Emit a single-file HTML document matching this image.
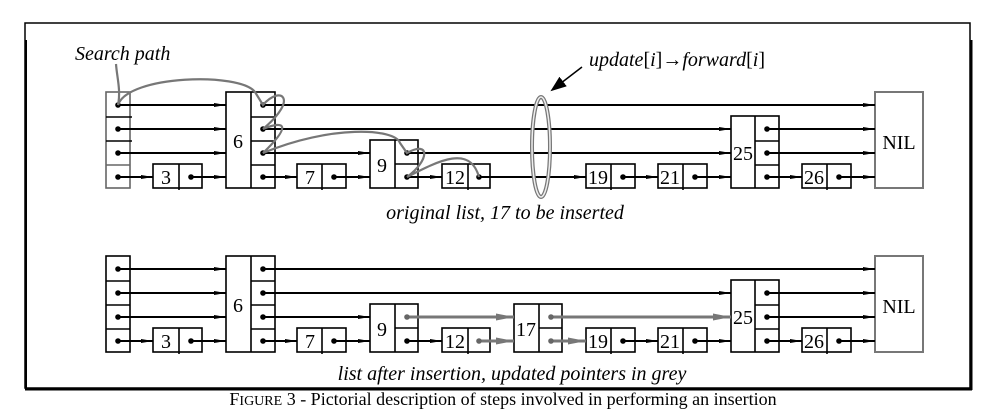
<!DOCTYPE html>
<html><head><meta charset="utf-8"><style>
html,body{margin:0;padding:0;background:#fff;}
svg{display:block;font-family:"Liberation Serif",serif;}
</style></head><body>
<svg width="1007" height="415" viewBox="0 0 1007 415" xmlns="http://www.w3.org/2000/svg">
<defs>
<marker id="a" markerUnits="userSpaceOnUse" markerWidth="12" markerHeight="6" refX="12" refY="3" orient="auto"><path d="M0,1 L12,3 L0,5z" fill="#000"/></marker>
<marker id="g" markerUnits="userSpaceOnUse" markerWidth="18" markerHeight="8" refX="18" refY="4" orient="auto"><path d="M0,0.5 L18,4 L0,7.5z" fill="#777"/></marker>
<marker id="b" markerUnits="userSpaceOnUse" markerWidth="16" markerHeight="12" refX="14" refY="6" orient="auto"><path d="M0,0 L16,6 L0,12z" fill="#000"/></marker>
</defs>
<rect x="25" y="23" width="945" height="365" fill="none" stroke="#000" stroke-width="1.5"/>
<line x1="26" y1="40" x2="26" y2="390" stroke="#000" stroke-width="2"/>
<line x1="971" y1="40" x2="971" y2="390" stroke="#000" stroke-width="3"/>
<line x1="25" y1="389" x2="972" y2="389" stroke="#000" stroke-width="3"/>

<g>
<g stroke="#000" stroke-width="1.6" fill="#fff">
<rect x="106" y="92" width="24" height="96" stroke="#666"/>
<line x1="106" y1="117" x2="132" y2="117"/><line x1="106" y1="141" x2="132" y2="141"/><line x1="106" y1="165" x2="130" y2="165" stroke="#666"/>
<rect x="226" y="92" width="49" height="96"/><line x1="251" y1="92" x2="251" y2="188"/>
<line x1="251" y1="117" x2="275" y2="117"/><line x1="251" y1="141" x2="275" y2="141"/><line x1="251" y1="165" x2="275" y2="165"/>
<rect x="153" y="164" width="49" height="24"/><line x1="179" y1="164" x2="179" y2="190"/>
<rect x="297" y="164" width="49" height="24"/><line x1="322" y1="164" x2="322" y2="190"/>
<rect x="370" y="140" width="48" height="48"/><line x1="395" y1="140" x2="395" y2="188"/><line x1="395" y1="164" x2="418" y2="164"/>
<rect x="442" y="164" width="48" height="24"/><line x1="468" y1="164" x2="468" y2="190"/>
<rect x="586" y="164" width="49" height="24"/><line x1="611" y1="164" x2="611" y2="190"/>
<rect x="658" y="164" width="49" height="24"/><line x1="683" y1="164" x2="683" y2="190"/>
<rect x="731" y="116" width="48" height="72"/><line x1="755" y1="116" x2="755" y2="188"/><line x1="755" y1="141" x2="779" y2="141"/><line x1="755" y1="165" x2="779" y2="165"/>
<rect x="802" y="164" width="49" height="24"/><line x1="827" y1="164" x2="827" y2="190"/>
<rect x="875" y="92" width="48" height="96" stroke="#777" stroke-width="2"/>
</g>
<g stroke="#000" stroke-width="2" fill="none">
<line x1="118" y1="105" x2="226" y2="105" marker-end="url(#a)"/>
<line x1="118" y1="129" x2="226" y2="129" marker-end="url(#a)"/>
<line x1="118" y1="153" x2="226" y2="153" marker-end="url(#a)"/>
<line x1="118" y1="177" x2="153" y2="177" marker-end="url(#a)"/>
<line x1="191" y1="177" x2="226" y2="177" marker-end="url(#a)"/>
<line x1="263" y1="105" x2="875" y2="105" marker-end="url(#a)"/>
<line x1="263" y1="129" x2="731" y2="129" marker-end="url(#a)"/>
<line x1="263" y1="153" x2="370" y2="153" marker-end="url(#a)"/>
<line x1="263" y1="177" x2="297" y2="177" marker-end="url(#a)"/>
<line x1="334" y1="177" x2="370" y2="177" marker-end="url(#a)"/>
<line x1="407" y1="153" x2="731" y2="153" marker-end="url(#a)"/>
<line x1="407" y1="177" x2="442" y2="177" marker-end="url(#a)"/>
<line x1="479" y1="177" x2="586" y2="177" marker-end="url(#a)"/>
<line x1="623" y1="177" x2="658" y2="177" marker-end="url(#a)"/>
<line x1="695" y1="177" x2="731" y2="177" marker-end="url(#a)"/>
<line x1="767" y1="129" x2="875" y2="129" marker-end="url(#a)"/>
<line x1="767" y1="153" x2="875" y2="153" marker-end="url(#a)"/>
<line x1="767" y1="177" x2="802" y2="177" marker-end="url(#a)"/>
<line x1="839" y1="177" x2="875" y2="177" marker-end="url(#a)"/>
</g>
<g fill="#000">
<circle cx="118" cy="105" r="2.8"/><circle cx="118" cy="129" r="2.8"/><circle cx="118" cy="153" r="2.8"/><circle cx="118" cy="177" r="2.8"/>
<circle cx="191" cy="177" r="2.8"/>
<circle cx="263" cy="105" r="2.8"/><circle cx="263" cy="129" r="2.8"/><circle cx="263" cy="153" r="2.8"/><circle cx="263" cy="177" r="2.8"/>
<circle cx="334" cy="177" r="2.8"/><circle cx="407" cy="153" r="2.8"/><circle cx="407" cy="177" r="2.8"/>
<circle cx="479" cy="177" r="2.8"/><circle cx="623" cy="177" r="2.8"/><circle cx="695" cy="177" r="2.8"/>
<circle cx="767" cy="129" r="2.8"/><circle cx="767" cy="153" r="2.8"/><circle cx="767" cy="177" r="2.8"/><circle cx="839" cy="177" r="2.8"/>
</g>
<g font-size="20" text-anchor="middle">
<text x="238" y="148">6</text><text x="166" y="184">3</text><text x="310" y="184">7</text>
<text x="382" y="172">9</text><text x="455" y="184">12</text><text x="598" y="184">19</text>
<text x="670" y="184">21</text><text x="743" y="160">25</text><text x="814" y="184">26</text>
<text x="899" y="149">NIL</text>
</g>
</g>
<g stroke="#777" stroke-width="2.2" fill="none">
<path d="M116,64 C117,78 121,90 118,105"/>
<path d="M118,105 C128,75 240,72 255,92 L263,105 C280,85 300,98 263,129 C285,120 292,125 263,153 C330,125 395,128 400,143 L407,153 C430,140 430,160 407,177 C440,160 470,145 479,177"/>
</g>
<ellipse cx="541" cy="147" rx="9" ry="50" fill="none" stroke="#777" stroke-width="4"/>
<ellipse cx="541" cy="147" rx="9" ry="50" fill="none" stroke="#eee" stroke-width="1.5"/>
<line x1="582" y1="67" x2="552" y2="90" stroke="#000" stroke-width="1.5" marker-end="url(#b)"/>
<g font-style="italic" font-size="20">
<text x="75" y="60">Search path</text>
<text x="589" y="66">update<tspan font-style="normal">[</tspan>i<tspan font-style="normal">]→</tspan>forward<tspan font-style="normal">[</tspan>i<tspan font-style="normal">]</tspan></text>
<text x="505" y="219" text-anchor="middle">original list, 17 to be inserted</text>
<text x="512" y="380" text-anchor="middle">list after insertion, updated pointers in grey</text>
</g>

<g transform="translate(0,164)">
<g stroke="#000" stroke-width="1.6" fill="#fff">
<rect x="106" y="92" width="24" height="96"/>
<line x1="106" y1="117" x2="130" y2="117"/><line x1="106" y1="141" x2="130" y2="141"/><line x1="106" y1="165" x2="130" y2="165"/>
<rect x="226" y="92" width="49" height="96"/><line x1="251" y1="92" x2="251" y2="188"/>
<line x1="251" y1="117" x2="275" y2="117"/><line x1="251" y1="141" x2="275" y2="141"/><line x1="251" y1="165" x2="275" y2="165"/>
<rect x="153" y="164" width="49" height="24"/><line x1="179" y1="164" x2="179" y2="190"/>
<rect x="297" y="164" width="49" height="24"/><line x1="322" y1="164" x2="322" y2="190"/>
<rect x="370" y="140" width="48" height="48"/><line x1="395" y1="140" x2="395" y2="188"/><line x1="395" y1="164" x2="418" y2="164"/>
<rect x="442" y="164" width="48" height="24"/><line x1="468" y1="164" x2="468" y2="190"/>
<rect x="514" y="140" width="48" height="48"/><line x1="539" y1="140" x2="539" y2="188"/><line x1="539" y1="164" x2="562" y2="164"/>
<rect x="586" y="164" width="49" height="24"/><line x1="611" y1="164" x2="611" y2="190"/>
<rect x="658" y="164" width="49" height="24"/><line x1="683" y1="164" x2="683" y2="190"/>
<rect x="731" y="116" width="48" height="72"/><line x1="755" y1="116" x2="755" y2="188"/><line x1="755" y1="141" x2="779" y2="141"/><line x1="755" y1="165" x2="779" y2="165"/>
<rect x="802" y="164" width="49" height="24"/><line x1="827" y1="164" x2="827" y2="190"/>
<rect x="875" y="92" width="48" height="96" stroke="#777" stroke-width="2"/>
</g>
<g stroke="#000" stroke-width="2" fill="none">
<line x1="118" y1="105" x2="226" y2="105" marker-end="url(#a)"/>
<line x1="118" y1="129" x2="226" y2="129" marker-end="url(#a)"/>
<line x1="118" y1="153" x2="226" y2="153" marker-end="url(#a)"/>
<line x1="118" y1="177" x2="153" y2="177" marker-end="url(#a)"/>
<line x1="191" y1="177" x2="226" y2="177" marker-end="url(#a)"/>
<line x1="263" y1="105" x2="875" y2="105" marker-end="url(#a)"/>
<line x1="263" y1="129" x2="731" y2="129" marker-end="url(#a)"/>
<line x1="263" y1="153" x2="370" y2="153" marker-end="url(#a)"/>
<line x1="263" y1="177" x2="297" y2="177" marker-end="url(#a)"/>
<line x1="334" y1="177" x2="370" y2="177" marker-end="url(#a)"/>
<line x1="407" y1="177" x2="442" y2="177" marker-end="url(#a)"/>
<line x1="623" y1="177" x2="658" y2="177" marker-end="url(#a)"/>
<line x1="695" y1="177" x2="731" y2="177" marker-end="url(#a)"/>
<line x1="767" y1="129" x2="875" y2="129" marker-end="url(#a)"/>
<line x1="767" y1="153" x2="875" y2="153" marker-end="url(#a)"/>
<line x1="767" y1="177" x2="802" y2="177" marker-end="url(#a)"/>
<line x1="839" y1="177" x2="875" y2="177" marker-end="url(#a)"/>
</g>
<g stroke="#777" stroke-width="3" fill="none">
<line x1="407" y1="153" x2="514" y2="153" marker-end="url(#g)"/>
<line x1="479" y1="177" x2="514" y2="177" marker-end="url(#g)"/>
<line x1="551" y1="153" x2="731" y2="153" marker-end="url(#g)"/>
<line x1="551" y1="177" x2="586" y2="177" marker-end="url(#g)"/>
</g>
<g fill="#000">
<circle cx="118" cy="105" r="2.8"/><circle cx="118" cy="129" r="2.8"/><circle cx="118" cy="153" r="2.8"/><circle cx="118" cy="177" r="2.8"/>
<circle cx="191" cy="177" r="2.8"/>
<circle cx="263" cy="105" r="2.8"/><circle cx="263" cy="129" r="2.8"/><circle cx="263" cy="153" r="2.8"/><circle cx="263" cy="177" r="2.8"/>
<circle cx="334" cy="177" r="2.8"/><circle cx="407" cy="177" r="2.8"/>
<circle cx="623" cy="177" r="2.8"/><circle cx="695" cy="177" r="2.8"/>
<circle cx="767" cy="129" r="2.8"/><circle cx="767" cy="153" r="2.8"/><circle cx="767" cy="177" r="2.8"/><circle cx="839" cy="177" r="2.8"/>
</g>
<g fill="#666"><circle cx="407" cy="153" r="2.8"/><circle cx="479" cy="177" r="2.8"/><circle cx="551" cy="153" r="2.8"/><circle cx="551" cy="177" r="2.8"/></g>
<g font-size="20" text-anchor="middle">
<text x="238" y="148">6</text><text x="166" y="184">3</text><text x="310" y="184">7</text>
<text x="382" y="172">9</text><text x="455" y="184">12</text><text x="526" y="172">17</text><text x="598" y="184">19</text>
<text x="670" y="184">21</text><text x="743" y="160">25</text><text x="814" y="184">26</text>
<text x="899" y="149">NIL</text>
</g>
</g>
<text x="503" y="405" text-anchor="middle" font-size="18">F<tspan font-size="14">IGURE</tspan> 3 - Pictorial description of steps involved in performing an insertion</text>
</svg>
</body></html>
